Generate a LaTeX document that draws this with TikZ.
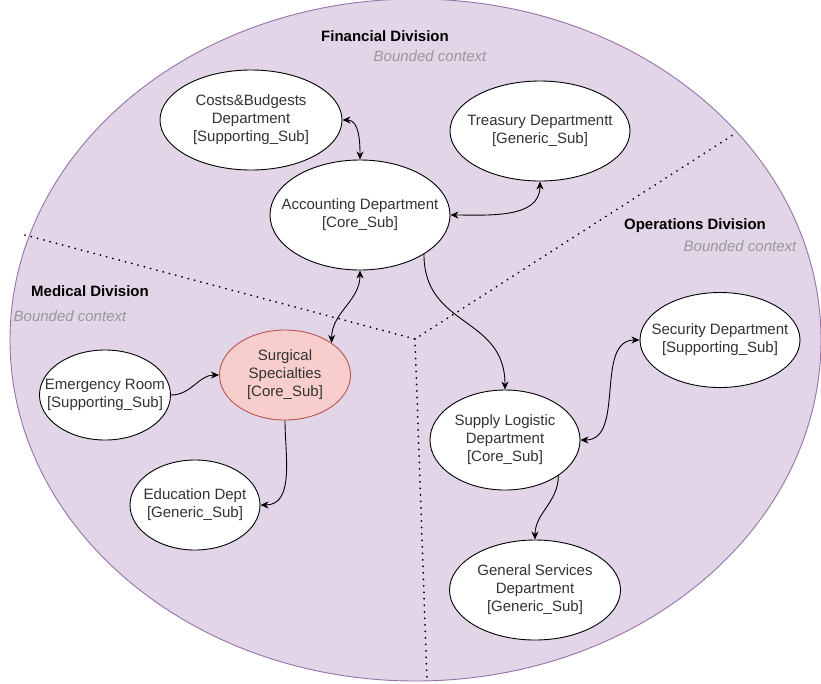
\documentclass[tikz,border=0pt]{standalone}
\usepackage{fontspec}
\setmainfont{Liberation Sans}
\usetikzlibrary{shapes.geometric,arrows.meta}
\definecolor{divfill}{HTML}{E1D5E7}
\definecolor{divline}{HTML}{9673A6}
\definecolor{corefill}{HTML}{F8CECC}
\definecolor{coreline}{HTML}{B85450}
\definecolor{txt}{HTML}{333333}
\definecolor{bc}{HTML}{999999}
\begin{document}
\begin{tikzpicture}[x=1pt,y=-1pt,>={Stealth[length=8pt,width=7pt,inset=2.5pt]},
    dept/.style={ellipse,draw,fill=white,line width=0.9pt,inner xsep=-30pt,inner ysep=-15pt,align=center,text=txt,font=\fontsize{15}{18}\selectfont},
    title/.style={font=\bfseries\fontsize{15}{18}\selectfont},
    bounded/.style={font=\itshape\fontsize{15}{18}\selectfont,text=bc},
    link/.style={line width=0.9pt},
    border/.style={line width=2pt,line cap=round,dash pattern=on 0pt off 6.5pt}]
    \useasboundingbox (0,0) rectangle (821,683);
    \draw[fill=divfill,draw=divline,line width=0.9pt] (415.5,340) ellipse [x radius=405.5pt,y radius=341pt];
    % division borders
    \coordinate (mid) at (415,339);
    \coordinate (bl) at (25,235);
    \coordinate (tr) at (736,133);
    \coordinate (bt) at (427,681);
    \draw[border] (bl)--(mid)--(tr);
    \draw[border] (mid)--(bt);
    % division labels
    \node[title] (fin) at (385,36) {Financial Division};
    \node[bounded] (finbc) at (430,56) {Bounded context};
    \node[title] (med) at (90,291) {Medical Division};
    \node[bounded] (medbc) at (70,316) {Bounded context};
    \node[title] (ops) at (695,226) {Operations Division};
    \node[bounded] (opsbc) at (740,246) {Bounded context};
    % departments
    \node[dept,minimum width=182,minimum height=100] (cb) at (251,120) {Costs\&Budgests\\Department\\{[}Supporting\_Sub{]}};
    \node[dept,minimum width=180,minimum height=100] (tres) at (540,131) {Treasury Departmentt\\{[}Generic\_Sub{]}};
    \node[dept,minimum width=180,minimum height=110] (acc) at (360,215) {Accounting Department\\{[}Core\_Sub{]}};
    \node[dept,minimum width=131,minimum height=90,fill=corefill,draw=coreline] (surg) at (285,375) {Surgical\\Specialties\\{[}Core\_Sub{]}};
    \node[dept,minimum width=131,minimum height=90] (er) at (105,395) {Emergency Room\\{[}Supporting\_Sub{]}};
    \node[dept,minimum width=130,minimum height=90] (edu) at (195,505) {Education Dept\\{[}Generic\_Sub{]}};
    \node[dept,minimum width=160,minimum height=95] (sec) at (720,340) {Security Department\\{[}Supporting\_Sub{]}};
    \node[dept,minimum width=150,minimum height=100] (sup) at (505,440) {Supply Logistic\\Department\\{[}Core\_Sub{]}};
    \node[dept,minimum width=171,minimum height=100] (gen) at (535,590) {General Services\\Department\\{[}Generic\_Sub{]}};
    % relations
    \draw[link,<->] (cb.east) to[out=0,in=90] (acc.north);
    \draw[link,<->] (acc.east) to[out=0,in=-90] (tres.south);
    \draw[link,<->] (acc.south) to[out=-90,in=90] (surg.north east);
    \draw[link,->] (acc.south east) to[out=-90,in=90,looseness=1.2] (sup.north);
    \draw[link,->] (er.east) to[out=0,in=180] (surg.west);
    \draw[link,->] (surg.south) to[out=-90,in=0] (edu.east);
    \draw[link,<->] (sup.east) to[out=0,in=180] (sec.west);
    \draw[link,->] (sup.south east) to[out=-90,in=90] (gen.north);
\end{tikzpicture}
\end{document}
